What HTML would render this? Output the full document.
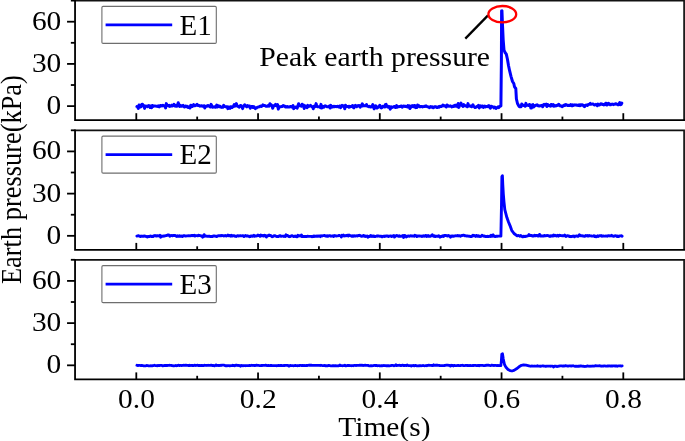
<!DOCTYPE html><html><head><meta charset="utf-8"><style>html,body{margin:0;padding:0;background:#fff;}svg{display:block;}text{font-family:"Liberation Serif",serif;fill:#000;}svg{will-change:transform;}</style></head><body>
<svg width="685" height="441" viewBox="0 0 685 441">
<polyline points="136.90,106.51 137.60,106.83 138.30,108.48 139.00,105.05 139.70,107.15 140.40,107.00 141.10,106.72 141.80,104.50 142.50,104.28 143.20,105.48 143.90,105.63 144.60,108.35 145.30,106.03 146.00,106.30 146.70,106.12 147.40,106.76 148.10,105.91 148.80,105.50 149.50,105.85 150.20,107.56 150.90,106.06 151.60,107.68 152.30,105.55 153.00,106.38 153.70,105.95 154.40,106.09 155.10,106.02 155.80,106.12 156.50,106.31 157.20,106.12 157.90,106.54 158.60,105.93 159.30,106.89 160.00,105.69 160.70,105.49 161.40,105.75 162.10,105.93 162.80,105.24 163.50,105.81 164.20,105.84 164.90,106.25 165.60,107.95 166.30,103.62 167.00,105.14 167.70,105.37 168.40,105.91 169.10,105.33 169.80,106.35 170.50,106.05 171.20,105.76 171.90,105.13 172.60,105.93 173.30,105.67 174.00,104.43 174.70,105.35 175.40,106.18 176.10,105.43 176.80,106.25 177.50,105.67 178.20,102.75 178.90,104.88 179.60,106.45 180.30,105.25 181.00,106.17 181.70,106.29 182.40,105.96 183.10,105.32 183.80,106.43 184.50,107.04 185.20,106.27 185.90,105.99 186.60,106.77 187.30,106.33 188.00,107.43 188.70,106.84 189.40,106.67 190.10,107.99 190.80,105.16 191.50,106.20 192.20,106.57 192.90,106.08 193.60,104.60 194.30,105.52 195.00,105.69 195.70,105.32 196.40,105.14 197.10,104.33 197.80,105.60 198.50,105.38 199.20,105.53 199.90,106.16 200.60,105.94 201.30,105.74 202.00,106.00 202.70,106.24 203.40,105.93 204.10,105.83 204.80,107.96 205.50,106.32 206.20,106.09 206.90,106.25 207.60,105.72 208.30,105.46 209.00,106.13 209.70,106.15 210.40,107.03 211.10,104.38 211.80,105.69 212.50,107.23 213.20,107.01 213.90,106.91 214.60,106.86 215.30,107.29 216.00,106.63 216.70,105.01 217.40,107.03 218.10,105.95 218.80,105.81 219.50,106.71 220.20,106.40 220.90,107.14 221.60,107.38 222.30,107.29 223.00,107.36 223.70,105.34 224.40,106.51 225.10,106.63 225.80,106.73 226.50,106.95 227.20,106.77 227.90,108.64 228.60,106.95 229.30,107.76 230.00,108.29 230.70,106.81 231.40,106.66 232.10,107.53 232.80,106.79 233.50,106.17 234.20,104.56 234.90,106.20 235.60,104.58 236.30,103.60 237.00,105.61 237.70,106.35 238.40,106.51 239.10,107.16 239.80,106.46 240.50,105.43 241.20,105.66 241.90,106.67 242.60,108.59 243.30,106.44 244.00,105.88 244.70,104.71 245.40,105.86 246.10,106.26 246.80,106.82 247.50,105.63 248.20,106.27 248.90,106.08 249.60,106.09 250.30,108.26 251.00,106.61 251.70,106.48 252.40,106.60 253.10,107.53 253.80,106.65 254.50,107.39 255.20,108.61 255.90,108.09 256.60,107.98 257.30,107.24 258.00,107.14 258.70,106.88 259.40,106.70 260.10,106.17 260.80,106.10 261.50,106.52 262.20,105.85 262.90,104.91 263.60,105.53 264.30,105.57 265.00,105.61 265.70,106.15 266.40,106.19 267.10,106.27 267.80,105.73 268.50,105.36 269.20,106.12 269.90,103.79 270.60,105.21 271.30,104.78 272.00,105.72 272.70,108.32 273.40,106.30 274.10,105.81 274.80,105.19 275.50,104.40 276.20,105.63 276.90,106.24 277.60,104.52 278.30,109.12 279.00,106.74 279.70,106.94 280.40,106.75 281.10,106.74 281.80,106.38 282.50,106.44 283.20,105.55 283.90,105.98 284.60,106.02 285.30,107.00 286.00,106.50 286.70,106.92 287.40,106.45 288.10,106.97 288.80,106.89 289.50,106.88 290.20,106.54 290.90,106.50 291.60,107.07 292.30,106.52 293.00,105.51 293.70,108.65 294.40,107.64 295.10,107.53 295.80,106.91 296.50,107.06 297.20,108.16 297.90,105.86 298.60,103.73 299.30,105.58 300.00,105.85 300.70,105.60 301.40,106.28 302.10,104.26 302.80,105.28 303.50,104.95 304.20,108.45 304.90,105.78 305.60,106.49 306.30,106.64 307.00,107.72 307.70,105.38 308.40,106.52 309.10,106.38 309.80,106.02 310.50,105.37 311.20,106.20 311.90,106.52 312.60,106.65 313.30,108.71 314.00,106.17 314.70,106.92 315.40,106.02 316.10,103.58 316.80,106.41 317.50,106.84 318.20,106.83 318.90,106.85 319.60,106.80 320.30,107.57 321.00,104.35 321.70,107.92 322.40,106.63 323.10,106.41 323.80,107.14 324.50,106.32 325.20,105.84 325.90,106.12 326.60,106.50 327.30,106.83 328.00,106.64 328.70,106.60 329.40,106.03 330.10,108.01 330.80,105.36 331.50,107.15 332.20,106.79 332.90,106.97 333.60,106.34 334.30,106.82 335.00,106.33 335.70,106.51 336.40,106.68 337.10,106.42 337.80,106.27 338.50,106.95 339.20,106.28 339.90,105.95 340.60,107.65 341.30,106.04 342.00,105.42 342.70,106.21 343.40,105.81 344.10,106.31 344.80,108.77 345.50,105.32 346.20,106.53 346.90,106.48 347.60,106.54 348.30,106.32 349.00,107.26 349.70,106.32 350.40,106.71 351.10,106.52 351.80,106.35 352.50,105.49 353.20,107.31 353.90,107.87 354.60,106.19 355.30,105.40 356.00,106.09 356.70,106.76 357.40,105.76 358.10,105.93 358.80,105.52 359.50,105.72 360.20,107.11 360.90,105.64 361.60,105.99 362.30,103.81 363.00,105.88 363.70,105.54 364.40,105.82 365.10,105.78 365.80,105.55 366.50,104.46 367.20,106.20 367.90,106.45 368.60,106.71 369.30,106.22 370.00,106.62 370.70,107.07 371.40,106.71 372.10,106.10 372.80,104.52 373.50,107.35 374.20,108.81 374.90,106.66 375.60,105.72 376.30,106.70 377.00,108.01 377.70,107.70 378.40,106.68 379.10,106.64 379.80,105.24 380.50,107.27 381.20,107.92 381.90,107.59 382.60,106.47 383.30,106.17 384.00,106.61 384.70,106.99 385.40,104.69 386.10,104.38 386.80,106.20 387.50,106.85 388.20,107.20 388.90,106.35 389.60,107.28 390.30,109.15 391.00,106.75 391.70,107.46 392.40,107.22 393.10,107.06 393.80,106.65 394.50,106.41 395.20,107.44 395.90,107.48 396.60,105.60 397.30,107.10 398.00,106.62 398.70,106.71 399.40,106.51 400.10,106.53 400.80,106.21 401.50,105.92 402.20,107.14 402.90,106.45 403.60,105.93 404.30,106.13 405.00,106.57 405.70,106.19 406.40,106.66 407.10,106.86 407.80,105.64 408.50,106.95 409.20,105.82 409.90,108.50 410.60,106.38 411.30,107.07 412.00,105.72 412.70,105.61 413.40,106.79 414.10,105.82 414.80,105.45 415.50,107.63 416.20,106.42 416.90,107.46 417.60,105.01 418.30,105.67 419.00,105.83 419.70,106.76 420.40,106.82 421.10,106.39 421.80,106.65 422.50,106.96 423.20,106.62 423.90,106.46 424.60,106.21 425.30,106.55 426.00,105.86 426.70,106.56 427.40,106.66 428.10,106.90 428.80,106.96 429.50,107.70 430.20,107.06 430.90,106.47 431.60,107.14 432.30,106.74 433.00,107.77 433.70,107.51 434.40,106.68 435.10,106.62 435.80,106.72 436.50,107.28 437.20,107.59 437.90,107.29 438.60,106.65 439.30,107.13 440.00,106.26 440.70,106.40 441.40,106.46 442.10,106.01 442.80,104.99 443.50,105.59 444.20,105.95 444.90,105.74 445.60,106.29 446.30,106.98 447.00,105.03 447.70,105.50 448.40,106.00 449.10,106.20 449.80,106.07 450.50,105.88 451.20,106.42 451.90,106.90 452.60,106.25 453.30,106.57 454.00,105.58 454.70,105.38 455.40,106.22 456.10,105.16 456.80,105.85 457.50,106.65 458.20,103.57 458.90,107.37 459.60,104.89 460.30,104.94 461.00,103.10 461.70,105.39 462.40,105.90 463.10,106.43 463.80,104.57 464.50,105.50 465.20,105.64 465.90,106.08 466.60,106.15 467.30,106.71 468.00,103.64 468.70,105.96 469.40,106.06 470.10,106.03 470.80,106.28 471.50,106.75 472.20,105.84 472.90,104.71 473.60,106.29 474.30,106.72 475.00,107.58 475.70,107.34 476.40,106.97 477.10,106.32 477.80,105.98 478.50,105.30 479.20,107.96 479.90,106.06 480.60,105.85 481.30,106.69 482.00,106.22 482.70,105.93 483.40,107.32 484.10,106.51 484.80,106.13 485.50,106.90 486.20,106.61 486.90,106.61 487.60,106.15 488.30,106.75 489.00,105.67 489.70,106.53 490.40,108.15 491.10,106.29 491.80,106.48 492.50,106.85 493.20,106.96 493.90,107.87 494.60,106.99 495.30,107.33 496.00,108.55 496.70,107.75 497.40,107.47 498.10,106.76 498.80,107.58 499.50,106.83 500.20,105.95 500.90,105.93 501.40,60.00 501.60,10.90 501.95,10.70 502.50,25.00 503.20,40.00 504.00,50.00 505.00,52.50 506.30,54.20 507.40,59.00 508.50,65.50 509.60,70.70 511.00,76.30 512.50,81.50 513.80,83.50 514.50,86.80 515.80,88.50 516.40,99.00 517.50,103.50 519.00,106.30 520.00,106.80 521.00,106.77 521.70,104.06 522.40,104.86 523.10,105.21 523.80,105.60 524.50,105.36 525.20,106.22 525.90,103.38 526.60,105.45 527.30,105.17 528.00,105.27 528.70,105.46 529.40,104.48 530.10,104.78 530.80,108.01 531.50,108.01 532.20,104.94 532.90,104.67 533.60,107.03 534.30,106.25 535.00,105.77 535.70,105.23 536.40,105.18 537.10,104.75 537.80,105.72 538.50,105.74 539.20,106.05 539.90,105.82 540.60,105.69 541.30,105.58 542.00,105.37 542.70,106.68 543.40,104.99 544.10,104.28 544.80,104.91 545.50,104.86 546.20,104.21 546.90,106.45 547.60,104.49 548.30,105.35 549.00,105.47 549.70,105.90 550.40,106.14 551.10,104.43 551.80,104.78 552.50,105.79 553.20,104.46 553.90,106.29 554.60,105.54 555.30,105.71 556.00,105.98 556.70,105.68 557.40,105.20 558.10,104.83 558.80,104.23 559.50,105.66 560.20,105.62 560.90,106.01 561.60,106.23 562.30,106.66 563.00,106.13 563.70,105.40 564.40,104.91 565.10,105.44 565.80,104.45 566.50,104.89 567.20,105.32 567.90,105.59 568.60,105.35 569.30,105.27 570.00,105.44 570.70,104.64 571.40,105.01 572.10,105.85 572.80,104.76 573.50,105.38 574.20,105.11 574.90,104.83 575.60,105.03 576.30,105.03 577.00,105.26 577.70,105.21 578.40,105.57 579.10,104.73 579.80,105.68 580.50,104.85 581.20,105.12 581.90,104.72 582.60,104.93 583.30,105.52 584.00,106.33 584.70,106.63 585.40,105.33 586.10,104.94 586.80,105.15 587.50,105.54 588.20,104.47 588.90,104.40 589.60,104.11 590.30,103.46 591.00,104.26 591.70,104.12 592.40,104.06 593.10,104.11 593.80,104.47 594.50,104.94 595.20,104.87 595.90,104.37 596.60,105.03 597.30,105.71 598.00,104.05 598.70,105.11 599.40,105.09 600.10,104.62 600.80,103.67 601.50,103.84 602.20,104.45 602.90,104.36 603.60,104.89 604.30,104.33 605.00,104.59 605.70,103.20 606.40,103.50 607.10,105.00 607.80,104.38 608.50,103.38 609.20,103.77 609.90,104.68 610.60,104.85 611.30,104.26 612.00,104.28 612.70,104.10 613.40,104.62 614.10,104.15 614.80,104.22 615.50,103.79 616.20,103.80 616.90,104.05 617.60,104.76 618.30,104.81 619.00,104.00 619.70,102.55 620.40,104.66 621.10,104.60 621.80,103.10" fill="none" stroke="#0000ff" stroke-width="3.0" stroke-linejoin="round" stroke-linecap="round"/>
<path d="M75.05,0.60 H684.10 V120.20" fill="none" stroke="#111" stroke-width="1.7"/>
<path d="M75.05,-0.30 V120.20 H685.00" fill="none" stroke="#000" stroke-width="1.8"/>
<line x1="67.05" y1="106.13" x2="75.05" y2="106.13" stroke="#000" stroke-width="1.8"/>
<text transform="translate(61.30,114.13) scale(1.09,1)" text-anchor="end" font-size="27">0</text>
<line x1="67.05" y1="63.92" x2="75.05" y2="63.92" stroke="#000" stroke-width="1.8"/>
<text transform="translate(61.30,71.92) scale(1.09,1)" text-anchor="end" font-size="27">30</text>
<line x1="67.05" y1="21.71" x2="75.05" y2="21.71" stroke="#000" stroke-width="1.8"/>
<text transform="translate(61.30,29.71) scale(1.09,1)" text-anchor="end" font-size="27">60</text>
<line x1="70.85" y1="85.02" x2="75.05" y2="85.02" stroke="#000" stroke-width="1.8"/>
<line x1="70.85" y1="42.81" x2="75.05" y2="42.81" stroke="#000" stroke-width="1.8"/>
<line x1="70.85" y1="0.60" x2="75.05" y2="0.60" stroke="#000" stroke-width="1.8"/>
<line x1="136.30" y1="113.20" x2="136.30" y2="120.20" stroke="#000" stroke-width="1.8"/>
<line x1="258.05" y1="113.20" x2="258.05" y2="120.20" stroke="#000" stroke-width="1.8"/>
<line x1="379.80" y1="113.20" x2="379.80" y2="120.20" stroke="#000" stroke-width="1.8"/>
<line x1="501.55" y1="113.20" x2="501.55" y2="120.20" stroke="#000" stroke-width="1.8"/>
<line x1="623.30" y1="113.20" x2="623.30" y2="120.20" stroke="#000" stroke-width="1.8"/>
<line x1="197.18" y1="116.60" x2="197.18" y2="120.20" stroke="#000" stroke-width="1.8"/>
<line x1="318.93" y1="116.60" x2="318.93" y2="120.20" stroke="#000" stroke-width="1.8"/>
<line x1="440.68" y1="116.60" x2="440.68" y2="120.20" stroke="#000" stroke-width="1.8"/>
<line x1="562.42" y1="116.60" x2="562.42" y2="120.20" stroke="#000" stroke-width="1.8"/>
<rect x="101.9" y="6.40" width="114.4" height="37.0" rx="1.2" fill="#fff" stroke="#6e6e6e" stroke-width="1.1"/>
<line x1="105.6" y1="24.90" x2="172.2" y2="24.90" stroke="#0000ff" stroke-width="2.7"/>
<text transform="translate(179.60,34.70) scale(1.0,1)" text-anchor="start" font-size="29">E1</text>
<polyline points="136.90,236.02 137.60,235.82 138.30,235.73 139.00,235.95 139.70,236.35 140.40,236.44 141.10,236.07 141.80,236.26 142.50,236.10 143.20,236.39 143.90,236.23 144.60,235.92 145.30,236.28 146.00,236.41 146.70,236.76 147.40,236.96 148.10,236.47 148.80,236.46 149.50,236.51 150.20,236.12 150.90,236.02 151.60,236.57 152.30,236.25 153.00,236.63 153.70,236.00 154.40,235.61 155.10,235.56 155.80,235.85 156.50,236.16 157.20,235.71 157.90,235.81 158.60,235.91 159.30,236.08 160.00,235.31 160.70,237.26 161.40,236.11 162.10,236.16 162.80,236.33 163.50,236.02 164.20,236.16 164.90,235.86 165.60,235.64 166.30,235.61 167.00,235.38 167.70,234.97 168.40,234.85 169.10,235.09 169.80,236.24 170.50,235.60 171.20,235.51 171.90,235.60 172.60,235.83 173.30,235.45 174.00,235.47 174.70,235.41 175.40,235.69 176.10,236.13 176.80,236.44 177.50,235.81 178.20,236.10 178.90,236.32 179.60,235.68 180.30,236.24 181.00,236.07 181.70,236.01 182.40,236.43 183.10,235.97 183.80,235.69 184.50,235.73 185.20,235.96 185.90,236.09 186.60,235.94 187.30,235.83 188.00,235.82 188.70,235.68 189.40,235.85 190.10,235.81 190.80,235.80 191.50,235.40 192.20,235.41 192.90,235.69 193.60,235.59 194.30,235.18 195.00,236.07 195.70,235.65 196.40,235.58 197.10,235.58 197.80,235.81 198.50,235.28 199.20,235.38 199.90,235.66 200.60,235.69 201.30,236.12 202.00,236.04 202.70,237.11 203.40,236.22 204.10,234.64 204.80,236.28 205.50,235.93 206.20,236.16 206.90,236.20 207.60,236.37 208.30,236.32 209.00,236.14 209.70,236.25 210.40,236.54 211.10,236.47 211.80,236.36 212.50,236.45 213.20,236.02 213.90,236.17 214.60,235.98 215.30,236.10 216.00,236.35 216.70,236.49 217.40,235.97 218.10,235.92 218.80,235.67 219.50,235.68 220.20,235.69 220.90,235.89 221.60,235.50 222.30,235.55 223.00,235.70 223.70,236.00 224.40,235.93 225.10,235.56 225.80,235.60 226.50,236.05 227.20,235.73 227.90,235.03 228.60,235.76 229.30,235.51 230.00,235.61 230.70,236.13 231.40,235.31 232.10,236.05 232.80,235.75 233.50,235.72 234.20,235.63 234.90,236.32 235.60,236.24 236.30,236.52 237.00,235.85 237.70,235.66 238.40,235.94 239.10,235.93 239.80,235.80 240.50,235.64 241.20,235.84 241.90,235.91 242.60,235.77 243.30,235.78 244.00,236.60 244.70,236.09 245.40,235.43 246.10,236.00 246.80,235.95 247.50,235.82 248.20,236.08 248.90,236.24 249.60,236.68 250.30,236.54 251.00,235.93 251.70,235.83 252.40,236.25 253.10,235.88 253.80,235.39 254.50,236.34 255.20,235.91 255.90,236.14 256.60,235.90 257.30,235.83 258.00,235.08 258.70,235.64 259.40,235.38 260.10,236.28 260.80,235.09 261.50,235.87 262.20,235.59 262.90,235.48 263.60,236.01 264.30,235.18 265.00,235.83 265.70,235.79 266.40,237.10 267.10,235.80 267.80,235.75 268.50,235.52 269.20,235.09 269.90,235.61 270.60,235.57 271.30,236.05 272.00,236.75 272.70,236.66 273.40,236.20 274.10,235.66 274.80,235.61 275.50,235.94 276.20,236.33 276.90,236.51 277.60,236.37 278.30,236.64 279.00,236.20 279.70,235.60 280.40,235.72 281.10,236.36 281.80,236.12 282.50,236.08 283.20,236.12 283.90,236.43 284.60,236.09 285.30,236.48 286.00,234.86 286.70,235.86 287.40,235.48 288.10,235.83 288.80,236.54 289.50,236.70 290.20,236.51 290.90,236.13 291.60,235.80 292.30,235.82 293.00,236.21 293.70,236.62 294.40,236.25 295.10,236.07 295.80,236.50 296.50,236.68 297.20,236.73 297.90,235.22 298.60,236.03 299.30,235.76 300.00,235.83 300.70,236.04 301.40,234.92 302.10,236.62 302.80,236.60 303.50,236.33 304.20,236.40 304.90,236.59 305.60,236.52 306.30,236.50 307.00,236.51 307.70,236.16 308.40,236.33 309.10,236.41 309.80,236.35 310.50,236.35 311.20,236.42 311.90,236.75 312.60,236.64 313.30,236.06 314.00,236.51 314.70,236.06 315.40,236.21 316.10,236.04 316.80,236.27 317.50,236.01 318.20,236.30 318.90,235.93 319.60,235.90 320.30,236.59 321.00,235.82 321.70,236.08 322.40,235.81 323.10,235.67 323.80,235.57 324.50,235.37 325.20,235.98 325.90,235.95 326.60,236.19 327.30,235.83 328.00,236.26 328.70,235.86 329.40,235.61 330.10,235.66 330.80,236.22 331.50,236.15 332.20,236.00 332.90,235.76 333.60,236.47 334.30,235.58 335.00,235.83 335.70,235.80 336.40,235.98 337.10,235.86 337.80,235.83 338.50,235.62 339.20,235.33 339.90,235.61 340.60,235.79 341.30,236.97 342.00,235.35 342.70,235.72 343.40,235.01 344.10,236.04 344.80,235.59 345.50,235.88 346.20,235.73 346.90,235.42 347.60,235.21 348.30,235.90 349.00,235.07 349.70,235.37 350.40,235.58 351.10,235.89 351.80,236.36 352.50,235.83 353.20,236.21 353.90,235.71 354.60,235.96 355.30,235.83 356.00,236.04 356.70,235.73 357.40,236.04 358.10,235.66 358.80,235.48 359.50,235.32 360.20,235.62 360.90,236.02 361.60,236.39 362.30,236.09 363.00,235.71 363.70,235.39 364.40,236.29 365.10,236.01 365.80,236.43 366.50,236.30 367.20,235.97 367.90,237.15 368.60,236.65 369.30,236.23 370.00,236.56 370.70,235.52 371.40,236.05 372.10,236.50 372.80,236.21 373.50,235.91 374.20,236.58 374.90,236.27 375.60,236.51 376.30,236.22 377.00,235.94 377.70,236.22 378.40,236.01 379.10,236.19 379.80,236.30 380.50,236.22 381.20,236.25 381.90,236.75 382.60,236.69 383.30,236.09 384.00,236.09 384.70,236.45 385.40,236.04 386.10,235.87 386.80,235.97 387.50,235.90 388.20,236.58 388.90,236.26 389.60,236.15 390.30,235.97 391.00,236.01 391.70,236.55 392.40,236.12 393.10,235.84 393.80,235.57 394.50,237.05 395.20,236.21 395.90,235.81 396.60,235.53 397.30,235.69 398.00,236.03 398.70,236.26 399.40,235.72 400.10,236.42 400.80,236.38 401.50,236.11 402.20,235.85 402.90,235.46 403.60,237.42 404.30,235.67 405.00,235.41 405.70,236.17 406.40,236.91 407.10,236.29 407.80,236.19 408.50,235.92 409.20,236.24 409.90,236.08 410.60,235.76 411.30,235.97 412.00,235.92 412.70,236.04 413.40,235.94 414.10,236.25 414.80,235.34 415.50,235.74 416.20,235.65 416.90,236.59 417.60,235.86 418.30,236.12 419.00,236.02 419.70,236.02 420.40,236.07 421.10,236.15 421.80,236.45 422.50,236.05 423.20,236.23 423.90,235.66 424.60,236.17 425.30,235.76 426.00,235.42 426.70,236.50 427.40,235.82 428.10,235.51 428.80,236.37 429.50,236.30 430.20,236.37 430.90,235.68 431.60,235.79 432.30,234.71 433.00,235.80 433.70,236.21 434.40,235.83 435.10,236.60 435.80,236.29 436.50,236.26 437.20,236.15 437.90,236.19 438.60,235.79 439.30,236.28 440.00,237.18 440.70,236.46 441.40,236.44 442.10,236.03 442.80,235.79 443.50,236.54 444.20,235.55 444.90,235.45 445.60,235.40 446.30,235.65 447.00,235.91 447.70,236.07 448.40,235.43 449.10,235.97 449.80,236.15 450.50,237.11 451.20,236.04 451.90,236.29 452.60,235.84 453.30,236.20 454.00,236.20 454.70,235.93 455.40,235.82 456.10,235.82 456.80,235.88 457.50,235.43 458.20,235.93 458.90,235.79 459.60,235.60 460.30,236.25 461.00,235.83 461.70,235.48 462.40,235.57 463.10,235.21 463.80,235.14 464.50,235.68 465.20,235.60 465.90,235.91 466.60,236.00 467.30,235.91 468.00,236.00 468.70,236.25 469.40,236.11 470.10,236.33 470.80,236.61 471.50,236.54 472.20,236.03 472.90,235.22 473.60,235.83 474.30,235.45 475.00,235.81 475.70,236.40 476.40,235.41 477.10,235.76 477.80,236.20 478.50,235.73 479.20,236.21 479.90,236.58 480.60,236.24 481.30,236.32 482.00,235.27 482.70,235.71 483.40,235.86 484.10,236.28 484.80,236.04 485.50,236.56 486.20,236.41 486.90,236.61 487.60,236.22 488.30,236.59 489.00,236.46 489.70,236.21 490.40,236.46 491.10,235.27 491.80,236.27 492.50,236.03 493.20,234.88 493.90,236.19 494.60,236.25 495.30,236.65 496.00,236.25 496.70,236.20 497.40,236.21 498.10,236.10 498.80,236.13 499.50,236.12 500.20,235.87 500.90,236.04 501.50,205.00 501.90,176.50 502.40,175.80 502.80,185.00 503.30,193.80 504.00,202.00 504.80,209.70 506.90,217.60 508.50,222.00 510.00,225.60 511.70,230.30 514.00,233.50 517.20,235.90 518.50,235.47 519.20,235.78 519.90,236.19 520.60,235.50 521.30,235.93 522.00,236.51 522.70,236.87 523.40,236.47 524.10,236.25 524.80,236.55 525.50,236.48 526.20,236.22 526.90,236.07 527.60,235.86 528.30,235.60 529.00,234.62 529.70,235.34 530.40,235.64 531.10,235.44 531.80,235.44 532.50,236.11 533.20,236.01 533.90,235.76 534.60,235.21 535.30,235.85 536.00,235.72 536.70,235.41 537.40,235.49 538.10,236.13 538.80,235.74 539.50,234.40 540.20,235.95 540.90,235.97 541.60,235.82 542.30,236.09 543.00,236.03 543.70,236.02 544.40,235.46 545.10,235.58 545.80,235.86 546.50,235.69 547.20,235.49 547.90,235.60 548.60,235.77 549.30,236.19 550.00,236.48 550.70,235.82 551.40,235.77 552.10,236.09 552.80,236.05 553.50,235.11 554.20,235.69 554.90,235.29 555.60,235.72 556.30,236.05 557.00,235.54 557.70,235.31 558.40,236.22 559.10,235.39 559.80,235.28 560.50,235.49 561.20,235.66 561.90,235.69 562.60,235.64 563.30,235.81 564.00,235.91 564.70,235.15 565.40,235.80 566.10,236.49 566.80,235.82 567.50,235.64 568.20,235.97 568.90,235.99 569.60,236.53 570.30,236.44 571.00,236.70 571.70,236.46 572.40,236.31 573.10,236.27 573.80,235.94 574.50,236.74 575.20,236.19 575.90,236.15 576.60,235.92 577.30,236.21 578.00,236.35 578.70,235.98 579.40,234.76 580.10,235.34 580.80,235.76 581.50,235.85 582.20,235.66 582.90,236.11 583.60,236.05 584.30,236.22 585.00,236.37 585.70,235.58 586.40,235.77 587.10,235.50 587.80,235.97 588.50,236.01 589.20,235.51 589.90,235.88 590.60,235.90 591.30,235.94 592.00,236.11 592.70,236.09 593.40,236.00 594.10,235.70 594.80,236.60 595.50,236.22 596.20,236.82 596.90,236.36 597.60,235.72 598.30,236.45 599.00,235.83 599.70,235.76 600.40,235.70 601.10,235.57 601.80,236.30 602.50,236.16 603.20,235.87 603.90,236.14 604.60,236.14 605.30,236.17 606.00,236.01 606.70,236.17 607.40,236.18 608.10,235.62 608.80,235.68 609.50,235.93 610.20,235.82 610.90,235.93 611.60,235.37 612.30,236.00 613.00,236.02 613.70,236.29 614.40,236.18 615.10,235.68 615.80,235.85 616.50,236.00 617.20,236.54 617.90,236.00 618.60,236.59 619.30,236.08 620.00,235.83 620.70,235.90 621.40,235.74 622.10,236.21" fill="none" stroke="#0000ff" stroke-width="2.9" stroke-linejoin="round" stroke-linecap="round"/>
<path d="M75.05,130.30 H684.10 V249.90" fill="none" stroke="#111" stroke-width="1.7"/>
<path d="M75.05,129.40 V249.90 H685.00" fill="none" stroke="#000" stroke-width="1.8"/>
<line x1="67.05" y1="235.83" x2="75.05" y2="235.83" stroke="#000" stroke-width="1.8"/>
<text transform="translate(61.30,243.83) scale(1.09,1)" text-anchor="end" font-size="27">0</text>
<line x1="67.05" y1="193.62" x2="75.05" y2="193.62" stroke="#000" stroke-width="1.8"/>
<text transform="translate(61.30,201.62) scale(1.09,1)" text-anchor="end" font-size="27">30</text>
<line x1="67.05" y1="151.41" x2="75.05" y2="151.41" stroke="#000" stroke-width="1.8"/>
<text transform="translate(61.30,159.41) scale(1.09,1)" text-anchor="end" font-size="27">60</text>
<line x1="70.85" y1="214.72" x2="75.05" y2="214.72" stroke="#000" stroke-width="1.8"/>
<line x1="70.85" y1="172.51" x2="75.05" y2="172.51" stroke="#000" stroke-width="1.8"/>
<line x1="70.85" y1="130.30" x2="75.05" y2="130.30" stroke="#000" stroke-width="1.8"/>
<line x1="136.30" y1="242.90" x2="136.30" y2="249.90" stroke="#000" stroke-width="1.8"/>
<line x1="258.05" y1="242.90" x2="258.05" y2="249.90" stroke="#000" stroke-width="1.8"/>
<line x1="379.80" y1="242.90" x2="379.80" y2="249.90" stroke="#000" stroke-width="1.8"/>
<line x1="501.55" y1="242.90" x2="501.55" y2="249.90" stroke="#000" stroke-width="1.8"/>
<line x1="623.30" y1="242.90" x2="623.30" y2="249.90" stroke="#000" stroke-width="1.8"/>
<line x1="197.18" y1="246.30" x2="197.18" y2="249.90" stroke="#000" stroke-width="1.8"/>
<line x1="318.93" y1="246.30" x2="318.93" y2="249.90" stroke="#000" stroke-width="1.8"/>
<line x1="440.68" y1="246.30" x2="440.68" y2="249.90" stroke="#000" stroke-width="1.8"/>
<line x1="562.42" y1="246.30" x2="562.42" y2="249.90" stroke="#000" stroke-width="1.8"/>
<rect x="101.9" y="136.10" width="114.4" height="37.0" rx="1.2" fill="#fff" stroke="#6e6e6e" stroke-width="1.1"/>
<line x1="105.6" y1="154.60" x2="172.2" y2="154.60" stroke="#0000ff" stroke-width="2.7"/>
<text transform="translate(179.60,164.40) scale(1.0,1)" text-anchor="start" font-size="29">E2</text>
<polyline points="136.90,365.26 137.60,365.61 138.30,365.50 139.00,365.30 139.70,365.28 140.40,365.54 141.10,365.50 141.80,365.40 142.50,365.61 143.20,365.69 143.90,365.97 144.60,365.79 145.30,365.78 146.00,365.80 146.70,365.43 147.40,365.57 148.10,365.68 148.80,365.97 149.50,365.78 150.20,365.80 150.90,365.67 151.60,365.79 152.30,365.77 153.00,365.61 153.70,365.53 154.40,365.27 155.10,365.55 155.80,365.62 156.50,365.72 157.20,365.84 157.90,365.40 158.60,365.65 159.30,365.66 160.00,365.41 160.70,365.40 161.40,365.46 162.10,365.56 162.80,365.91 163.50,365.71 164.20,365.56 164.90,365.35 165.60,365.51 166.30,365.49 167.00,365.62 167.70,365.29 168.40,365.41 169.10,365.33 169.80,365.25 170.50,365.42 171.20,365.44 171.90,365.62 172.60,365.55 173.30,365.84 174.00,365.90 174.70,365.74 175.40,365.48 176.10,365.75 176.80,365.66 177.50,365.58 178.20,365.25 178.90,365.36 179.60,365.54 180.30,365.38 181.00,365.42 181.70,365.52 182.40,365.39 183.10,365.27 183.80,365.20 184.50,365.36 185.20,365.31 185.90,365.05 186.60,365.41 187.30,365.45 188.00,365.43 188.70,365.67 189.40,365.15 190.10,365.56 190.80,365.48 191.50,365.35 192.20,365.52 192.90,365.35 193.60,365.52 194.30,365.36 195.00,365.14 195.70,365.49 196.40,365.47 197.10,365.19 197.80,365.44 198.50,365.48 199.20,365.52 199.90,365.39 200.60,365.51 201.30,365.61 202.00,365.41 202.70,365.58 203.40,365.57 204.10,365.36 204.80,365.26 205.50,365.42 206.20,365.32 206.90,365.48 207.60,365.31 208.30,365.27 209.00,365.40 209.70,365.30 210.40,365.42 211.10,365.10 211.80,365.43 212.50,365.63 213.20,365.44 213.90,365.53 214.60,365.87 215.30,365.40 216.00,364.89 216.70,365.55 217.40,365.36 218.10,365.40 218.80,365.52 219.50,365.51 220.20,365.25 220.90,365.58 221.60,365.24 222.30,365.16 223.00,365.05 223.70,365.04 224.40,365.30 225.10,365.62 225.80,365.75 226.50,365.70 227.20,365.75 227.90,365.71 228.60,365.72 229.30,365.76 230.00,365.82 230.70,365.71 231.40,365.65 232.10,365.71 232.80,365.25 233.50,365.54 234.20,365.38 234.90,365.89 235.60,365.18 236.30,365.38 237.00,365.18 237.70,365.48 238.40,365.30 239.10,365.64 239.80,365.52 240.50,366.16 241.20,365.45 241.90,365.55 242.60,365.77 243.30,365.77 244.00,365.57 244.70,365.72 245.40,365.76 246.10,365.58 246.80,365.63 247.50,365.72 248.20,365.64 248.90,365.57 249.60,365.31 250.30,365.69 251.00,365.49 251.70,365.23 252.40,365.46 253.10,365.49 253.80,365.37 254.50,365.51 255.20,365.49 255.90,365.44 256.60,365.10 257.30,365.41 258.00,365.35 258.70,365.41 259.40,365.52 260.10,365.68 260.80,365.63 261.50,365.47 262.20,365.48 262.90,365.43 263.60,365.46 264.30,365.44 265.00,365.38 265.70,365.16 266.40,365.30 267.10,365.63 267.80,365.61 268.50,365.38 269.20,365.59 269.90,365.54 270.60,365.47 271.30,365.48 272.00,365.62 272.70,365.59 273.40,365.68 274.10,365.55 274.80,365.57 275.50,365.65 276.20,365.66 276.90,365.78 277.60,365.51 278.30,365.38 279.00,365.61 279.70,365.51 280.40,365.39 281.10,365.34 281.80,365.64 282.50,365.71 283.20,365.60 283.90,365.51 284.60,365.50 285.30,365.41 286.00,365.28 286.70,365.37 287.40,365.46 288.10,365.65 288.80,366.11 289.50,365.83 290.20,365.35 290.90,365.51 291.60,365.62 292.30,365.53 293.00,365.68 293.70,365.78 294.40,365.53 295.10,365.47 295.80,365.51 296.50,365.65 297.20,365.63 297.90,365.75 298.60,365.53 299.30,365.58 300.00,365.30 300.70,365.43 301.40,365.51 302.10,365.66 302.80,365.38 303.50,365.52 304.20,365.43 304.90,365.52 305.60,365.58 306.30,365.41 307.00,365.56 307.70,365.35 308.40,365.27 309.10,365.08 309.80,365.37 310.50,365.19 311.20,365.14 311.90,365.38 312.60,365.44 313.30,365.31 314.00,365.34 314.70,365.36 315.40,365.40 316.10,365.32 316.80,365.44 317.50,365.35 318.20,365.35 318.90,365.36 319.60,365.43 320.30,365.52 321.00,365.24 321.70,365.42 322.40,365.55 323.10,365.62 323.80,365.62 324.50,365.42 325.20,365.76 325.90,365.58 326.60,365.82 327.30,365.90 328.00,365.65 328.70,365.42 329.40,365.46 330.10,365.69 330.80,365.84 331.50,365.86 332.20,365.91 332.90,365.68 333.60,365.59 334.30,365.80 335.00,365.75 335.70,365.72 336.40,365.79 337.10,365.77 337.80,365.94 338.50,365.75 339.20,365.65 339.90,365.00 340.60,365.60 341.30,365.53 342.00,365.69 342.70,365.78 343.40,365.53 344.10,365.55 344.80,365.26 345.50,365.74 346.20,365.78 346.90,365.69 347.60,365.44 348.30,365.57 349.00,365.38 349.70,365.56 350.40,365.56 351.10,365.68 351.80,365.73 352.50,365.57 353.20,365.73 353.90,365.40 354.60,365.45 355.30,365.43 356.00,365.52 356.70,365.39 357.40,365.36 358.10,365.47 358.80,365.47 359.50,365.16 360.20,365.14 360.90,365.28 361.60,365.20 362.30,365.17 363.00,365.51 363.70,365.40 364.40,365.31 365.10,365.15 365.80,365.32 366.50,365.44 367.20,365.38 367.90,365.28 368.60,365.72 369.30,365.93 370.00,365.80 370.70,365.73 371.40,365.73 372.10,365.83 372.80,365.72 373.50,365.54 374.20,365.39 374.90,365.39 375.60,365.58 376.30,365.44 377.00,365.64 377.70,365.74 378.40,365.61 379.10,365.75 379.80,365.76 380.50,365.90 381.20,365.71 381.90,365.85 382.60,365.58 383.30,365.56 384.00,365.45 384.70,365.70 385.40,365.69 386.10,365.74 386.80,365.85 387.50,365.70 388.20,365.60 388.90,365.88 389.60,365.82 390.30,365.69 391.00,365.62 391.70,365.48 392.40,365.40 393.10,365.48 393.80,365.75 394.50,365.64 395.20,365.43 395.90,364.78 396.60,365.64 397.30,365.37 398.00,365.46 398.70,365.31 399.40,365.22 400.10,365.55 400.80,365.43 401.50,365.54 402.20,365.20 402.90,365.15 403.60,365.63 404.30,365.51 405.00,365.51 405.70,365.34 406.40,365.69 407.10,364.94 407.80,365.43 408.50,365.52 409.20,365.63 409.90,365.68 410.60,365.74 411.30,365.98 412.00,365.54 412.70,365.55 413.40,365.47 414.10,365.91 414.80,365.56 415.50,365.47 416.20,365.58 416.90,365.82 417.60,365.89 418.30,365.80 419.00,365.74 419.70,365.74 420.40,365.60 421.10,365.77 421.80,365.69 422.50,365.56 423.20,365.49 423.90,365.70 424.60,365.77 425.30,365.68 426.00,365.55 426.70,365.77 427.40,365.40 428.10,365.31 428.80,365.21 429.50,365.39 430.20,365.47 430.90,365.41 431.60,365.35 432.30,365.62 433.00,365.50 433.70,364.78 434.40,365.28 435.10,365.39 435.80,365.17 436.50,365.41 437.20,365.06 437.90,365.39 438.60,365.37 439.30,365.39 440.00,365.71 440.70,365.56 441.40,365.62 442.10,365.58 442.80,365.71 443.50,365.56 444.20,365.59 444.90,365.33 445.60,365.44 446.30,365.19 447.00,365.20 447.70,365.07 448.40,365.34 449.10,365.42 449.80,365.46 450.50,366.13 451.20,365.24 451.90,365.52 452.60,365.42 453.30,365.99 454.00,365.35 454.70,365.45 455.40,365.69 456.10,365.60 456.80,365.56 457.50,365.50 458.20,365.32 458.90,365.61 459.60,365.58 460.30,365.59 461.00,365.40 461.70,365.28 462.40,365.26 463.10,365.51 463.80,365.58 464.50,365.59 465.20,365.53 465.90,365.29 466.60,365.34 467.30,365.66 468.00,365.48 468.70,365.59 469.40,365.57 470.10,365.37 470.80,365.55 471.50,365.55 472.20,365.53 472.90,365.41 473.60,365.51 474.30,365.43 475.00,365.35 475.70,365.44 476.40,365.62 477.10,365.51 477.80,365.58 478.50,365.42 479.20,365.78 479.90,365.42 480.60,365.44 481.30,365.28 482.00,365.35 482.70,365.47 483.40,365.60 484.10,365.53 484.80,365.68 485.50,365.33 486.20,365.26 486.90,365.32 487.60,365.14 488.30,365.15 489.00,365.32 489.70,365.47 490.40,365.57 491.10,365.42 491.80,365.14 492.50,365.47 493.20,365.41 493.90,365.50 494.60,365.39 495.30,365.37 496.00,365.46 496.70,365.54 497.40,365.46 498.10,365.53 498.80,365.49 499.50,365.56 500.20,365.51 500.90,365.62 501.40,360.00 501.80,354.00 502.50,353.80 503.30,359.00 504.50,364.50 506.00,367.30 508.00,369.50 510.00,370.60 512.00,371.00 514.00,370.40 516.50,368.80 519.00,366.80 521.50,365.30 523.50,364.90 526.00,365.20 529.00,365.90 530.50,366.26 531.20,366.06 531.90,365.98 532.60,366.08 533.30,366.07 534.00,366.21 534.70,366.01 535.40,366.14 536.10,366.10 536.80,366.12 537.50,365.78 538.20,366.15 538.90,366.13 539.60,366.06 540.30,366.34 541.00,366.14 541.70,366.07 542.40,365.96 543.10,365.91 543.80,366.10 544.50,366.06 545.20,366.25 545.90,366.35 546.60,366.16 547.30,366.20 548.00,366.08 548.70,366.19 549.40,366.05 550.10,366.15 550.80,366.24 551.50,366.06 552.20,366.04 552.90,366.25 553.60,367.01 554.30,366.20 555.00,366.09 555.70,366.14 556.40,366.42 557.10,366.53 557.80,366.46 558.50,366.05 559.20,366.09 559.90,365.94 560.60,365.85 561.30,365.82 562.00,365.97 562.70,366.18 563.40,365.86 564.10,366.03 564.80,365.92 565.50,365.66 566.20,365.82 566.90,365.96 567.60,366.14 568.30,366.04 569.00,365.90 569.70,365.82 570.40,365.90 571.10,366.04 571.80,365.82 572.50,365.81 573.20,365.76 573.90,365.97 574.60,366.21 575.30,366.46 576.00,366.09 576.70,366.37 577.40,366.42 578.10,366.13 578.80,366.34 579.50,366.08 580.20,365.95 580.90,365.89 581.60,366.20 582.30,366.18 583.00,366.27 583.70,366.26 584.40,366.39 585.10,366.50 585.80,366.35 586.50,366.30 587.20,365.93 587.90,365.98 588.60,366.17 589.30,366.27 590.00,366.07 590.70,366.26 591.40,366.14 592.10,366.18 592.80,365.99 593.50,366.03 594.20,366.08 594.90,365.98 595.60,365.59 596.30,365.93 597.00,365.91 597.70,365.81 598.40,365.94 599.10,365.70 599.80,365.89 600.50,365.86 601.20,366.23 601.90,366.14 602.60,366.01 603.30,366.18 604.00,365.87 604.70,365.81 605.40,366.05 606.10,366.03 606.80,366.04 607.50,365.96 608.20,365.99 608.90,365.93 609.60,365.86 610.30,366.04 611.00,365.96 611.70,366.00 612.40,366.01 613.10,365.86 613.80,365.86 614.50,365.83 615.20,366.03 615.90,365.83 616.60,365.97 617.30,366.28 618.00,366.00 618.70,365.86 619.40,365.89 620.10,365.77 620.80,366.03 621.50,366.02 622.20,365.92" fill="none" stroke="#0000ff" stroke-width="2.8" stroke-linejoin="round" stroke-linecap="round"/>
<path d="M75.05,259.80 H684.10 V379.40" fill="none" stroke="#111" stroke-width="1.7"/>
<path d="M75.05,258.90 V379.40 H685.00" fill="none" stroke="#000" stroke-width="1.8"/>
<line x1="67.05" y1="365.33" x2="75.05" y2="365.33" stroke="#000" stroke-width="1.8"/>
<text transform="translate(61.30,373.33) scale(1.09,1)" text-anchor="end" font-size="27">0</text>
<line x1="67.05" y1="323.12" x2="75.05" y2="323.12" stroke="#000" stroke-width="1.8"/>
<text transform="translate(61.30,331.12) scale(1.09,1)" text-anchor="end" font-size="27">30</text>
<line x1="67.05" y1="280.91" x2="75.05" y2="280.91" stroke="#000" stroke-width="1.8"/>
<text transform="translate(61.30,288.91) scale(1.09,1)" text-anchor="end" font-size="27">60</text>
<line x1="70.85" y1="344.22" x2="75.05" y2="344.22" stroke="#000" stroke-width="1.8"/>
<line x1="70.85" y1="302.01" x2="75.05" y2="302.01" stroke="#000" stroke-width="1.8"/>
<line x1="70.85" y1="259.80" x2="75.05" y2="259.80" stroke="#000" stroke-width="1.8"/>
<line x1="136.30" y1="372.40" x2="136.30" y2="379.40" stroke="#000" stroke-width="1.8"/>
<line x1="258.05" y1="372.40" x2="258.05" y2="379.40" stroke="#000" stroke-width="1.8"/>
<line x1="379.80" y1="372.40" x2="379.80" y2="379.40" stroke="#000" stroke-width="1.8"/>
<line x1="501.55" y1="372.40" x2="501.55" y2="379.40" stroke="#000" stroke-width="1.8"/>
<line x1="623.30" y1="372.40" x2="623.30" y2="379.40" stroke="#000" stroke-width="1.8"/>
<line x1="197.18" y1="375.80" x2="197.18" y2="379.40" stroke="#000" stroke-width="1.8"/>
<line x1="318.93" y1="375.80" x2="318.93" y2="379.40" stroke="#000" stroke-width="1.8"/>
<line x1="440.68" y1="375.80" x2="440.68" y2="379.40" stroke="#000" stroke-width="1.8"/>
<line x1="562.42" y1="375.80" x2="562.42" y2="379.40" stroke="#000" stroke-width="1.8"/>
<rect x="101.9" y="265.60" width="114.4" height="37.0" rx="1.2" fill="#fff" stroke="#6e6e6e" stroke-width="1.1"/>
<line x1="105.6" y1="284.10" x2="172.2" y2="284.10" stroke="#0000ff" stroke-width="2.7"/>
<text transform="translate(179.60,293.90) scale(1.0,1)" text-anchor="start" font-size="29">E3</text>
<text transform="translate(136.50,408.30) scale(1.09,1)" text-anchor="middle" font-size="27">0.0</text>
<text transform="translate(258.25,408.30) scale(1.09,1)" text-anchor="middle" font-size="27">0.2</text>
<text transform="translate(380.00,408.30) scale(1.09,1)" text-anchor="middle" font-size="27">0.4</text>
<text transform="translate(501.75,408.30) scale(1.09,1)" text-anchor="middle" font-size="27">0.6</text>
<text transform="translate(623.50,408.30) scale(1.09,1)" text-anchor="middle" font-size="27">0.8</text>
<text transform="translate(384.40,435.60) scale(1.09,1)" text-anchor="middle" font-size="27">Time(s)</text>
<text transform="translate(21.2,179.6) rotate(-90) scale(1,1.13)" text-anchor="middle" font-size="26.4">Earth pressure(kPa)</text>
<text transform="translate(259.20,65.70) scale(1.1,1)" text-anchor="start" font-size="27">Peak earth pressure</text>
<line x1="465.3" y1="38.6" x2="488.0" y2="15.4" stroke="#000" stroke-width="2.3"/>
<ellipse cx="502.3" cy="14.2" rx="13.9" ry="8.2" fill="none" stroke="#ff0000" stroke-width="2.3"/>
</svg></body></html>
